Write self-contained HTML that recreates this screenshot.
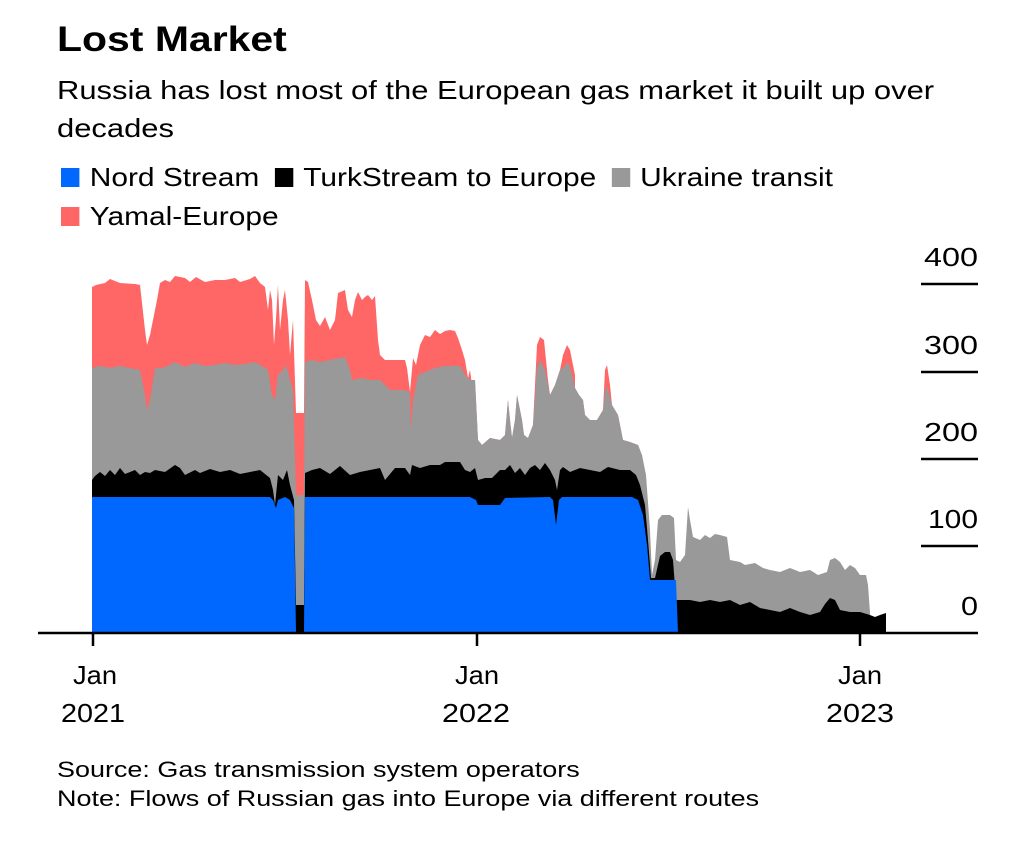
<!DOCTYPE html>
<html><head><meta charset="utf-8"><style>
body{margin:0;background:#fff;width:1030px;height:858px;overflow:hidden;font-family:"Liberation Sans",sans-serif;color:#000}
.t{position:absolute;white-space:nowrap;transform-origin:0 0}
.sq{display:inline-block;width:16px;height:19px;vertical-align:-1px;margin-right:9px}
</style></head><body>
<div class="t" style="left:57px;top:20px;font-size:35px;font-weight:bold;transform:scaleX(1.17)">Lost Market</div>
<div class="t" style="left:57px;top:71px;font-size:26px;line-height:38px;transform:scaleX(1.19)">Russia has lost most of the European gas market it built up over<br>decades</div>
<div class="t" style="left:61px;top:162px;font-size:26px;transform:scaleX(1.15)"><span class="sq" style="background:#0068ff"></span>Nord Stream <span style="margin-left:6px"></span><span class="sq" style="background:#000"></span>TurkStream to Europe <span style="margin-left:6px"></span><span class="sq" style="background:#999"></span>Ukraine transit</div>
<div class="t" style="left:61px;top:201px;font-size:26px;transform:scaleX(1.15)"><span class="sq" style="background:#ff6666"></span>Yamal-Europe</div>
<svg width="1030" height="858" style="position:absolute;left:0;top:0">
<g font-family="Liberation Sans, sans-serif" font-size="26" text-anchor="end">
<text x="978" y="266" textLength="54" lengthAdjust="spacingAndGlyphs">400</text><text x="978" y="354" textLength="54" lengthAdjust="spacingAndGlyphs">300</text><text x="978" y="441" textLength="54" lengthAdjust="spacingAndGlyphs">200</text><text x="978" y="528" textLength="50" lengthAdjust="spacingAndGlyphs">100</text><text x="978" y="615" textLength="17" lengthAdjust="spacingAndGlyphs">0</text>
</g>
<g stroke="#000" stroke-width="2.5"><line x1="921" y1="284" x2="978" y2="284"/><line x1="921" y1="372" x2="978" y2="372"/><line x1="921" y1="459" x2="978" y2="459"/><line x1="921" y1="546" x2="978" y2="546"/></g>
<polygon fill="#ff6666" points="92,633 92,287 96,285 105,283 110,279 120,283 135,284 140,285 145,330 147,345 150,335 157,300 160,283 165,280 170,282 175,276 185,278 190,282 196,277 205,282 215,280 225,280 235,278 240,282 250,279 255,276 260,283 265,287 268,310 270,290 272,300 274,345 276,318 278,285 280,330 283,300 285,290 288,320 290,355 293,320 296,413 304,413 305,280 308,282 312,300 316,320 320,326 325,317 330,330 335,320 338,293 345,290 348,310 352,317 355,300 358,292 362,300 365,297 368,295 372,300 375,296 378,340 380,355 385,360 395,360 405,360 407,368 410,392 413,358 416,365 420,345 425,335 430,337 435,330 440,334 445,331 450,330 455,331 458,338 462,350 465,360 468,378 470,370 472,385 475,380 478,440 482,445 490,438 500,440 505,435 508,400 510,420 512,438 515,420 517,395 520,410 522,420 524,435 528,438 533,425 537,345 540,337 544,340 548,380 550,395 555,385 560,370 563,355 567,345 570,350 575,375 575,388 579,395 583,400 585,415 590,420 597,420 603,410 605,370 607,365 610,385 612,405 618,415 623,440 630,442 638,445 640,450 640,633"/>
<polygon fill="#999" points="92,633 92,368 100,366 110,368 120,366 130,368 140,370 145,395 147,410 150,400 155,368 162,368 170,365 175,362 185,367 195,363 205,366 215,365 225,363 235,365 245,364 255,362 262,366 268,370 272,395 275,400 278,375 283,370 286,365 290,380 293,390 296,495 304,495 305,362 312,360 320,362 330,360 345,357 350,370 352,380 362,378 370,380 380,380 390,390 405,390 410,393 411,430 413,400 418,375 425,372 435,368 445,366 460,366 465,375 470,380 475,380 478,440 482,445 490,438 500,440 505,435 508,400 510,420 512,438 515,420 517,395 520,410 522,420 524,435 528,438 533,425 537,368 540,360 545,370 550,395 555,385 560,370 563,368 568,362 572,375 575,388 579,395 583,400 585,415 590,420 597,420 603,410 606,385 608,390 612,405 618,415 623,440 630,442 638,445 642,455 646,475 650,530 652,575 655,560 658,520 662,515 670,515 674,518 676,560 680,562 685,555 688,507 690,520 693,537 700,540 705,535 710,538 715,534 720,535 727,537 730,560 740,562 745,565 755,563 763,568 770,570 780,572 790,568 800,572 810,570 818,575 827,572 830,560 835,558 840,562 845,570 850,565 855,568 860,575 866,575 868,585 870,613 870,633"/>
<polygon fill="#000" points="92,633 92,480 95,476 100,472 105,476 110,470 115,475 120,468 125,474 135,470 140,475 145,472 150,473 155,470 165,472 175,465 180,468 185,475 195,470 200,473 210,469 220,472 230,470 240,474 250,472 260,470 270,478 273,490 275,505 278,475 283,480 287,470 290,485 294,500 296,605 304,605 305,473 312,470 320,468 330,474 340,466 350,475 360,472 370,470 380,468 385,480 395,468 405,468 410,475 412,465 420,468 430,465 440,465 445,462 460,462 465,470 470,472 475,468 478,480 485,478 492,478 500,470 505,470 510,465 515,473 520,468 525,475 530,468 535,465 540,470 545,463 550,470 555,480 557,490 560,470 563,467 570,472 580,468 590,470 600,472 608,467 620,470 630,470 636,475 640,485 645,505 648,540 651,578 655,578 660,556 665,552 670,552 673,560 676,600 680,600 690,600 700,602 710,600 720,602 730,600 740,605 750,602 760,608 770,610 780,612 790,608 800,612 810,615 820,612 825,604 830,598 835,600 840,610 850,612 860,612 870,615 875,617 880,615 886,613 886,633"/>
<polygon fill="#0068ff" points="92,633 92,497 270,497 273,500 276,508 278,500 285,497 290,500 294,508 296,633 304,633 305,497 470,497 476,500 478,505 500,505 505,498 550,497 553,500 556,525 559,500 562,497 632,497 638,500 643,515 647,545 650,580 676,580 678,633"/>
<line x1="38" y1="633" x2="978" y2="633" stroke="#000" stroke-width="2.5"/>
<g stroke="#000" stroke-width="2.5"><line x1="93" y1="633" x2="93" y2="646"/><line x1="477" y1="633" x2="477" y2="646"/><line x1="860" y1="633" x2="860" y2="646"/></g>
<g font-family="Liberation Sans, sans-serif" font-size="26" text-anchor="middle">
<text x="95" y="684" textLength="44" lengthAdjust="spacingAndGlyphs">Jan</text><text x="93" y="722" textLength="64" lengthAdjust="spacingAndGlyphs">2021</text>
<text x="477" y="684" textLength="44" lengthAdjust="spacingAndGlyphs">Jan</text><text x="476" y="722" textLength="68" lengthAdjust="spacingAndGlyphs">2022</text>
<text x="860" y="684" textLength="44" lengthAdjust="spacingAndGlyphs">Jan</text><text x="860" y="722" textLength="68" lengthAdjust="spacingAndGlyphs">2023</text>
</g>
</svg>
<div class="t" style="left:57px;top:755px;font-size:22px;line-height:29px;transform:scaleX(1.225)">Source: Gas transmission system operators<br>Note: Flows of Russian gas into Europe via different routes</div>
</body></html>
